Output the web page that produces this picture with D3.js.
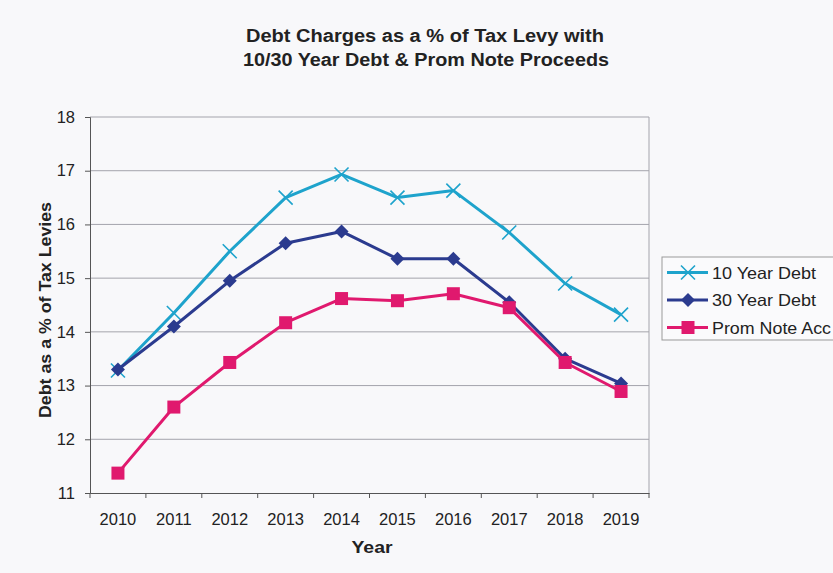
<!DOCTYPE html>
<html><head><meta charset="utf-8">
<script src="https://cdn.jsdelivr.net/npm/d3@7"></script>
<style>
html,body{margin:0;padding:0;background:#f8f8fa;overflow:hidden}
svg{display:block}
text{font-family:"Liberation Sans",Arial,sans-serif;fill:#222}
</style></head>
<body><svg id="c" width="833" height="573"></svg>
<script>
const years = ["2010","2011","2012","2013","2014","2015","2016","2017","2018","2019"];
const tenYear = [13.28,14.35,15.5,16.5,16.93,16.5,16.63,15.85,14.9,14.32];
const thirtyYear = [13.3,14.1,14.95,15.65,15.87,15.36,15.36,14.55,13.5,13.04];
const promNote = [11.37,12.6,13.43,14.17,14.62,14.58,14.71,14.45,13.43,12.89];
const yTicks = [11,12,13,14,15,16,17,18];
const seriesNames = ["10 Year Debt","30 Year Debt","Prom Note Acc"];

const svg = d3.select("#c");
const m = {l:90, t:117, r:649, b:493};
const x = d3.scaleBand().domain(years).range([m.l, m.r]);
const y = d3.scaleLinear().domain([11,18]).range([m.b, m.t]);
const FONT = '"Liberation Sans",Arial,sans-serif';

// gridlines
svg.append("g").selectAll("line").data(yTicks.slice(1)).join("line")
  .attr("x1", m.l).attr("x2", m.r).attr("y1", d=>y(d)).attr("y2", d=>y(d))
  .attr("stroke", "#a4a4ac").attr("stroke-width", 1);
svg.append("line").attr("x1", m.r).attr("x2", m.r).attr("y1", m.t).attr("y2", m.b)
  .attr("stroke", "#a4a4ac");

// y axis
const ya = svg.append("g").attr("transform", `translate(${m.l},0)`)
  .call(d3.axisLeft(y).tickValues(yTicks).tickSize(5).tickPadding(10).tickFormat(d3.format("d")));
ya.select(".domain").attr("stroke", "#555");
ya.selectAll(".tick line").attr("stroke", "#555");
ya.selectAll("text").attr("font-size", 16.5).attr("fill", "#222").style("font-family", FONT);

// x axis
const xa = svg.append("g").attr("transform", `translate(0,${m.b})`)
  .call(d3.axisBottom(x).tickSize(0).tickPadding(20));
xa.select(".domain").attr("stroke", "#555");
xa.selectAll("text").attr("font-size", 16.5).attr("fill", "#222").style("font-family", FONT);
svg.append("g").selectAll("line").data(d3.range(years.length+1)).join("line")
  .attr("x1", i=>m.l + i*x.step()).attr("x2", i=>m.l + i*x.step())
  .attr("y1", m.b).attr("y2", m.b+5).attr("stroke", "#555");

// titles
function label(xx, yy, txt, size, len, extra) {
  const t = svg.append("text").attr("x", xx).attr("y", yy).attr("text-anchor","middle")
    .attr("font-size", size).attr("font-weight","bold")
    .attr("textLength", len).attr("lengthAdjust","spacingAndGlyphs").text(txt);
  if (extra) t.attr("transform", extra);
  return t;
}
label(425, 42, "Debt Charges as a % of Tax Levy with", 17.5, 358);
label(426, 66, "10/30 Year Debt & Prom Note Proceeds", 17.5, 366);
label(372, 553, "Year", 16, 41);
label(0, 0, "Debt as a % of Tax Levies", 16.5, 216, "translate(51,310) rotate(-90)");

const colors = ["#1ea3cc","#2b3b8f","#e0196e"];
const data = [tenYear, thirtyYear, promNote];
const line = d3.line().x((d,i)=>x(years[i]) + x.bandwidth()/2).y(d=>y(d));

function marker(g, type, color) {
  if (type===0) {
    g.append("path").attr("d","M-7,-7L7,7M-7,7L7,-7").attr("stroke",color).attr("stroke-width",1.6).attr("fill","none");
  } else if (type===1) {
    g.append("path").attr("d","M0,-7L7,0L0,7L-7,0Z").attr("fill",color);
  } else {
    g.append("rect").attr("x",-6.5).attr("y",-6.5).attr("width",13).attr("height",13).attr("fill",color);
  }
}

data.forEach((vals, s) => {
  svg.append("path").datum(vals).attr("d", line).attr("fill","none")
    .attr("stroke", colors[s]).attr("stroke-width", 3).attr("stroke-linejoin","round");
  vals.forEach((v,i) => {
    const g = svg.append("g").attr("transform", `translate(${x(years[i]) + x.bandwidth()/2},${y(v)})`);
    marker(g, s, colors[s]);
  });
});

// legend
const lg = svg.append("g");
lg.append("rect").attr("x", 662).attr("y", 257).attr("width", 200).attr("height", 83)
  .attr("fill", "#fafafc").attr("stroke", "#999");
const legLens = [104, 104, 119];
seriesNames.forEach((n, i) => {
  const yy = 272.5 + i*27.5;
  lg.append("line").attr("x1", 667).attr("x2", 708).attr("y1", yy).attr("y2", yy)
    .attr("stroke", colors[i]).attr("stroke-width", 3);
  const g = lg.append("g").attr("transform", `translate(688,${yy})`);
  marker(g, i, colors[i]);
  lg.append("text").attr("x", 712).attr("y", yy+6).attr("font-size", 16.5)
    .attr("textLength", legLens[i]).attr("lengthAdjust","spacingAndGlyphs").text(n);
});
</script></body></html>
